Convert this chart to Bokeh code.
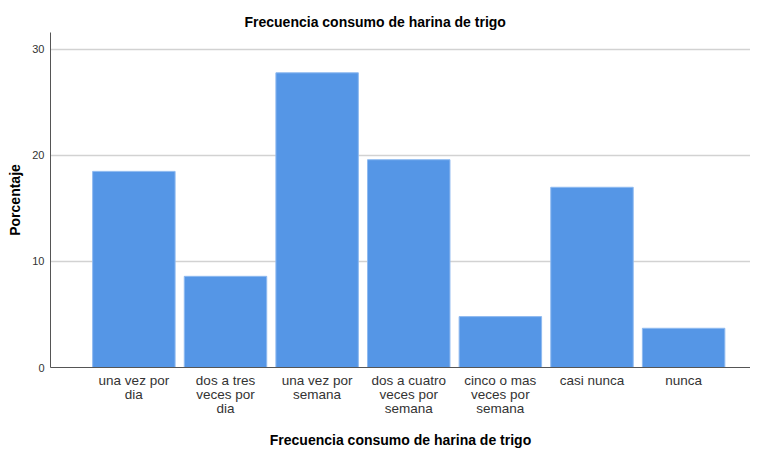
import numpy as np
from bokeh.plotting import figure
from bokeh.models import Range1d, FixedTicker, ColumnDataSource
from bokeh.embed import file_html
from bokeh.resources import INLINE

categories = ["una vez por\ndia", "dos a tres\nveces por\ndia", "una vez por\nsemana",
              "dos a cuatro\nveces por\nsemana", "cinco o mas\nveces por\nsemana",
              "casi nunca", "nunca"]
values = [18.5, 8.6, 27.8, 19.6, 4.8, 17.0, 3.7]
y_ticks = [0, 10, 20, 30]

xs = list(range(len(categories)))
src = ColumnDataSource(dict(x=xs, top=values))

FONT = "Liberation Sans"

p = figure(frame_width=700, frame_height=335, output_backend="svg", toolbar_location=None,
           x_range=Range1d(-0.91, len(categories) - 1 + 0.73),
           y_range=Range1d(0, 31.6),
           min_border_left=50, min_border_right=0, min_border_top=32, min_border_bottom=0)

p.vbar(x="x", top="top", width=0.9, source=src, fill_color="#5596e6",
       line_color="#8fbaf0", line_width=1)

p.title.text = "Frecuencia consumo de harina de trigo"
p.title.text_font = FONT
p.title.text_font_size = "14px"
p.title.text_font_style = "bold"
p.title.align = "left"
p.title.offset = 194
p.title.standoff = 6
p.title.text_color = "#000000"

p.outline_line_color = None
p.xgrid.grid_line_color = None
p.ygrid.grid_line_color = "#d2d2d2"
p.ygrid.grid_line_width = 1.5

p.yaxis.ticker = FixedTicker(ticks=y_ticks)
p.yaxis.axis_label = "Porcentaje"
p.yaxis.axis_label_text_font = FONT
p.yaxis.axis_label_text_font_size = "14px"
p.yaxis.axis_label_text_font_style = "bold"
p.yaxis.axis_label_text_color = "#000000"
p.yaxis.axis_label_standoff = 6
p.yaxis.major_label_text_font = FONT
p.yaxis.major_label_text_font_size = "11px"
p.yaxis.major_label_text_color = "#333333"
p.yaxis.major_label_standoff = 6
p.yaxis.major_tick_line_color = None
p.yaxis.major_tick_out = 0
p.yaxis.major_tick_in = 0
p.yaxis.minor_tick_line_color = None
p.yaxis.minor_tick_out = 0
p.yaxis.axis_line_color = "#555555"

p.xaxis.ticker = FixedTicker(ticks=xs)
p.xaxis.major_label_overrides = {i: c for i, c in zip(xs, categories)}
p.xaxis.axis_label = "Frecuencia consumo de harina de trigo"
p.xaxis.axis_label_text_font = FONT
p.xaxis.axis_label_text_font_size = "14px"
p.xaxis.axis_label_text_font_style = "bold"
p.xaxis.axis_label_text_color = "#000000"
p.xaxis.axis_label_standoff = 13
p.xaxis.major_label_text_font = FONT
p.xaxis.major_label_text_font_size = "13.5px"
p.xaxis.major_label_text_color = "#333333"
p.xaxis.major_label_text_line_height = 0.95
p.xaxis.major_label_standoff = 5
p.xaxis.major_tick_line_color = None
p.xaxis.major_tick_out = 0
p.xaxis.major_tick_in = 0
p.xaxis.minor_tick_line_color = None
p.xaxis.minor_tick_out = 0
p.xaxis.axis_line_color = "#555555"

open("out.html", "w").write(file_html(p, INLINE))
